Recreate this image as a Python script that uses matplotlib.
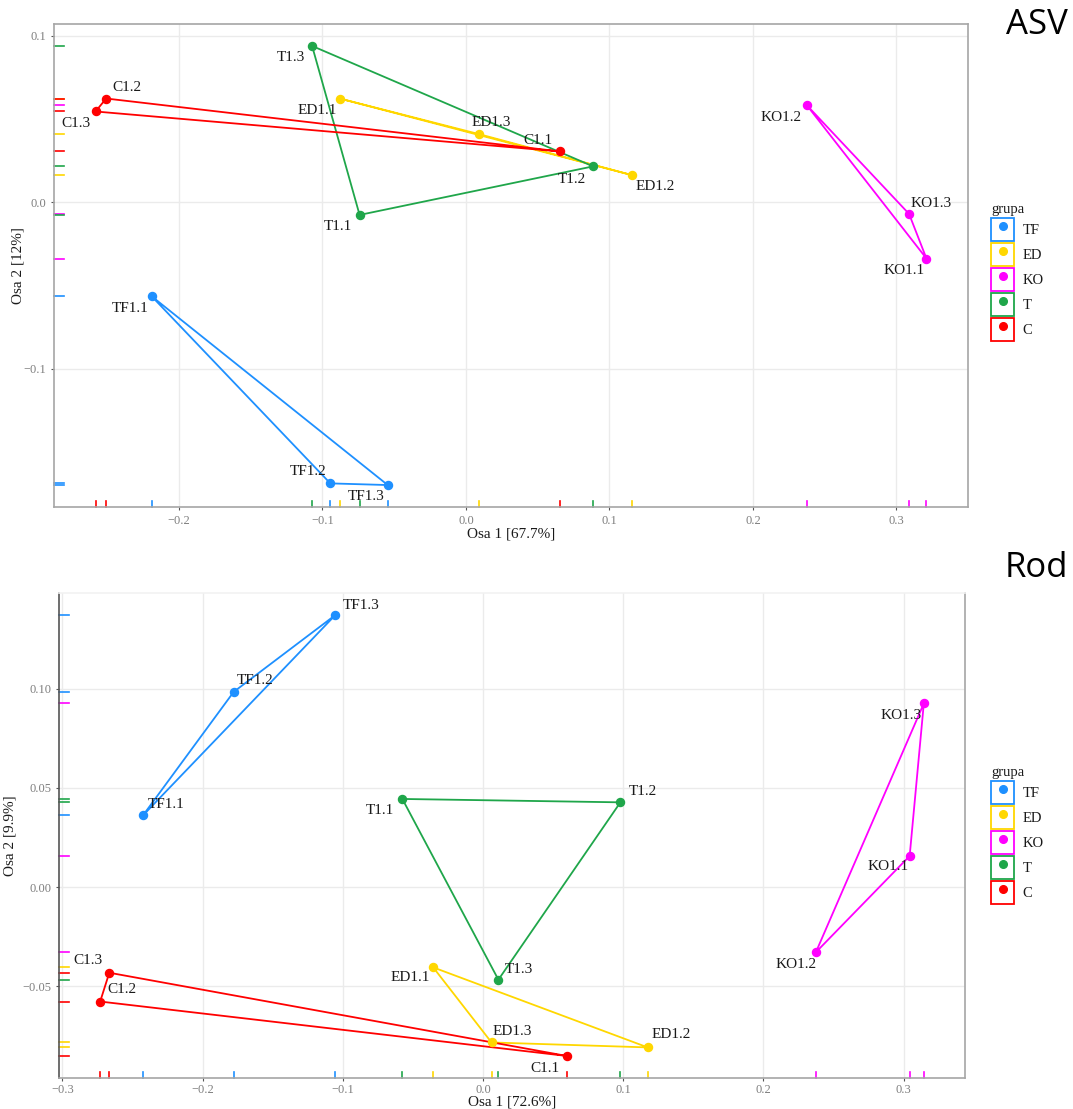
import matplotlib
matplotlib.use("Agg")
import matplotlib.pyplot as plt
import matplotlib.transforms as mtransforms
from matplotlib.patches import Patch
from matplotlib.lines import Line2D
from matplotlib.legend_handler import HandlerTuple

# skupiny a barvy
groups = ['TF', 'ED', 'KO', 'T', 'C']
colors = ['#1E90FF', '#FFD700', '#FF00FF', '#1FA64A', '#FF0000']

# ASV ordinace
asv_names = ['TF1.1', 'TF1.2', 'TF1.3', 'ED1.1', 'ED1.2', 'ED1.3',
             'KO1.1', 'KO1.2', 'KO1.3', 'T1.1', 'T1.2', 'T1.3',
             'C1.1', 'C1.2', 'C1.3']
asv_group = ['TF'] * 3 + ['ED'] * 3 + ['KO'] * 3 + ['T'] * 3 + ['C'] * 3
asv_x = [-0.219, -0.0945, -0.0545, -0.088, 0.1154, 0.0091,
         0.3209, 0.2375, 0.3088, -0.0741, 0.0886, -0.1072,
         0.0653, -0.2507, -0.2581]
asv_y = [-0.0565, -0.169, -0.170, 0.0624, 0.0164, 0.041,
         -0.0338, 0.0584, -0.007, -0.0076, 0.0216, 0.094,
         0.0306, 0.0624, 0.0546]
asv_xticks = [-0.2, -0.1, 0.0, 0.1, 0.2, 0.3]
asv_xticklabels = ['\u22120.2', '\u22120.1', '0.0', '0.1', '0.2', '0.3']
asv_yticks = [-0.1, 0.0, 0.1]
asv_yticklabels = ['\u22120.1', '0.0', '0.1']

# Rod ordinace
rod_names = asv_names
rod_group = asv_group
rod_x = [-0.2425, -0.1778, -0.1053, -0.0355, 0.1175, 0.0061,
         0.3043, 0.2374, 0.3144, -0.0575, 0.098, 0.011,
         0.0597, -0.273, -0.2665]
rod_y = [0.0361, 0.0983, 0.137, -0.0404, -0.0807, -0.0782,
         0.0157, -0.0328, 0.0925, 0.0444, 0.0427, -0.0466,
         -0.085, -0.0576, -0.0431]
rod_xticks = [-0.3, -0.2, -0.1, 0.0, 0.1, 0.2, 0.3]
rod_xticklabels = ['\u22120.3', '\u22120.2', '\u22120.1', '0.0', '0.1', '0.2', '0.3']
rod_yticks = [-0.05, 0.0, 0.05, 0.10]
rod_yticklabels = ['\u22120.05', '0.00', '0.05', '0.10']

# posun popisku (px) vuci bodu
asv_lab_dx = [-22, -22, -22, -22, 24, 12, -22, -26, 22, -22, -21, -21, -22, 21, -20]
asv_lab_dy = [12, -12, 11, 12, 11, -12, 12, 12, -10, 12, 13, 12, -11, -11, 12]
rod_lab_dx = [23, 21, 26, -23, 23, 21, -22, -20, -23, -22, 22, 20, -22, 22, -21]
rod_lab_dy = [-11, -11, -10, 10, -13, -11, 11, 12, 12, 12, -11, -10, 13, -12, -12]

SERIF = 'Liberation Serif'
W, H = 1073, 1109


def expand(v):
    lo, hi = min(v), max(v)
    d = (hi - lo) * 0.05
    return lo - d, hi + d


def ordplot(ax, names, grp, xs, ys, dxs, dys, xt, xtl, yt, ytl, xlab, ylab):
    ax.set_facecolor('white')
    ax.grid(True, color='#EBEBEB', lw=1.0, zorder=0)
    ax.set_axisbelow(True)
    tb = mtransforms.blended_transform_factory(ax.transData, ax.transAxes)
    tl = mtransforms.blended_transform_factory(ax.transAxes, ax.transData)
    for g, c in zip(groups, colors):
        idx = [i for i, k in enumerate(grp) if k == g]
        gx = [xs[i] for i in idx] + [xs[idx[0]]]
        gy = [ys[i] for i in idx] + [ys[idx[0]]]
        ax.plot(gx, gy, color=c, lw=1.3, zorder=2, solid_joinstyle='round')
        ax.plot(gx[:-1], gy[:-1], 'o', color=c, ms=5.8, mec=c, zorder=3)
        # rug
        for i in idx:
            ax.plot([xs[i], xs[i]], [0, 0.013], color=c, lw=1.2, transform=tb,
                    clip_on=False, zorder=2)
            ax.plot([0, 0.011], [ys[i], ys[i]], color=c, lw=1.2, transform=tl,
                    clip_on=False, zorder=2)
    for n, x, y, dx, dy in zip(names, xs, ys, dxs, dys):
        ax.annotate(n, (x, y), xytext=(dx, -dy), textcoords='offset pixels',
                    ha='center', va='center', fontsize=11, family=SERIF,
                    color='#1A1A1A', zorder=4)
    ax.set_xlim(*expand(xs))
    ax.set_ylim(*expand(ys))
    ax.set_xticks(xt)
    ax.set_xticklabels(xtl)
    ax.set_yticks(yt)
    ax.set_yticklabels(ytl)
    ax.tick_params(length=2.5, width=0.8, color='#555555', labelcolor='#7F7F7F',
                   labelsize=9, pad=3)
    for lab in ax.get_xticklabels() + ax.get_yticklabels():
        lab.set_family(SERIF)
    ax.set_xlabel(xlab, family=SERIF, fontsize=11, color='#1A1A1A')
    ax.set_ylabel(ylab, family=SERIF, fontsize=11, color='#1A1A1A')


def legend_at(fig, top_px):
    handles = [(Patch(facecolor='white', edgecolor=c, lw=1.3),
                Line2D([], [], marker='o', ls='', color=c, ms=5.5))
               for c in colors]
    lg = fig.legend(handles, groups, loc='upper left',
                    bbox_to_anchor=(991 / W, 1 - top_px / H),
                    handler_map={tuple: HandlerTuple(ndivide=1, pad=0)},
                    frameon=False, title='grupa', alignment='left',
                    prop={'family': SERIF, 'size': 10.5},
                    handlelength=1.58, handleheight=2.05, labelspacing=0.14,
                    handletextpad=0.6, borderaxespad=0, borderpad=0)
    lg.get_title().set_family(SERIF)
    lg.get_title().set_fontsize(10.5)
    lg.get_title().set_color('#1A1A1A')
    for t in lg.get_texts():
        t.set_color('#1A1A1A')
    return lg


fig = plt.figure(figsize=(W / 100, H / 100), dpi=100)
fig.patch.set_facecolor('white')

ax1 = fig.add_axes([54 / W, 1 - 507 / H, 914 / W, 483 / H])
ordplot(ax1, asv_names, asv_group, asv_x, asv_y, asv_lab_dx, asv_lab_dy,
        asv_xticks, asv_xticklabels, asv_yticks, asv_yticklabels,
        'Osa 1 [67.7%]', 'Osa 2 [12%]')
for s in ax1.spines.values():
    s.set_color('#A6A6A6')
    s.set_linewidth(1.2)
ax1.xaxis.set_label_coords(0.5, -(527 - 507) / 483)
ax1.yaxis.set_label_coords(-(54 - 25) / 914, 0.5)

ax2 = fig.add_axes([59 / W, 1 - 1078 / H, 906 / W, 485 / H])
ordplot(ax2, rod_names, rod_group, rod_x, rod_y, rod_lab_dx, rod_lab_dy,
        rod_xticks, rod_xticklabels, rod_yticks, rod_yticklabels,
        'Osa 1 [72.6%]', 'Osa 2 [9.9%]')
ax2.spines['top'].set_color('#F2F2F2')
ax2.spines['left'].set_color('#555555')
ax2.spines['right'].set_color('#A6A6A6')
ax2.spines['bottom'].set_color('#A6A6A6')
for s in ax2.spines.values():
    s.set_linewidth(1.2)
ax2.tick_params(axis='x', pad=2)
ax2.xaxis.set_label_coords(0.5, -(1095 - 1078) / 485)
ax2.yaxis.set_label_coords(-(59 - 17) / 906, 0.5)

legend_at(fig, 203)
legend_at(fig, 766)

fig.text(1068 / W, 1 - 34 / H, 'ASV', ha='right', va='baseline',
         fontsize=25, family='Open Sans', color='black')
fig.text(1068 / W, 1 - 577 / H, 'Rod', ha='right', va='baseline',
         fontsize=25, family='Open Sans', color='black')

fig.savefig('out.png', dpi=100, facecolor='white')
